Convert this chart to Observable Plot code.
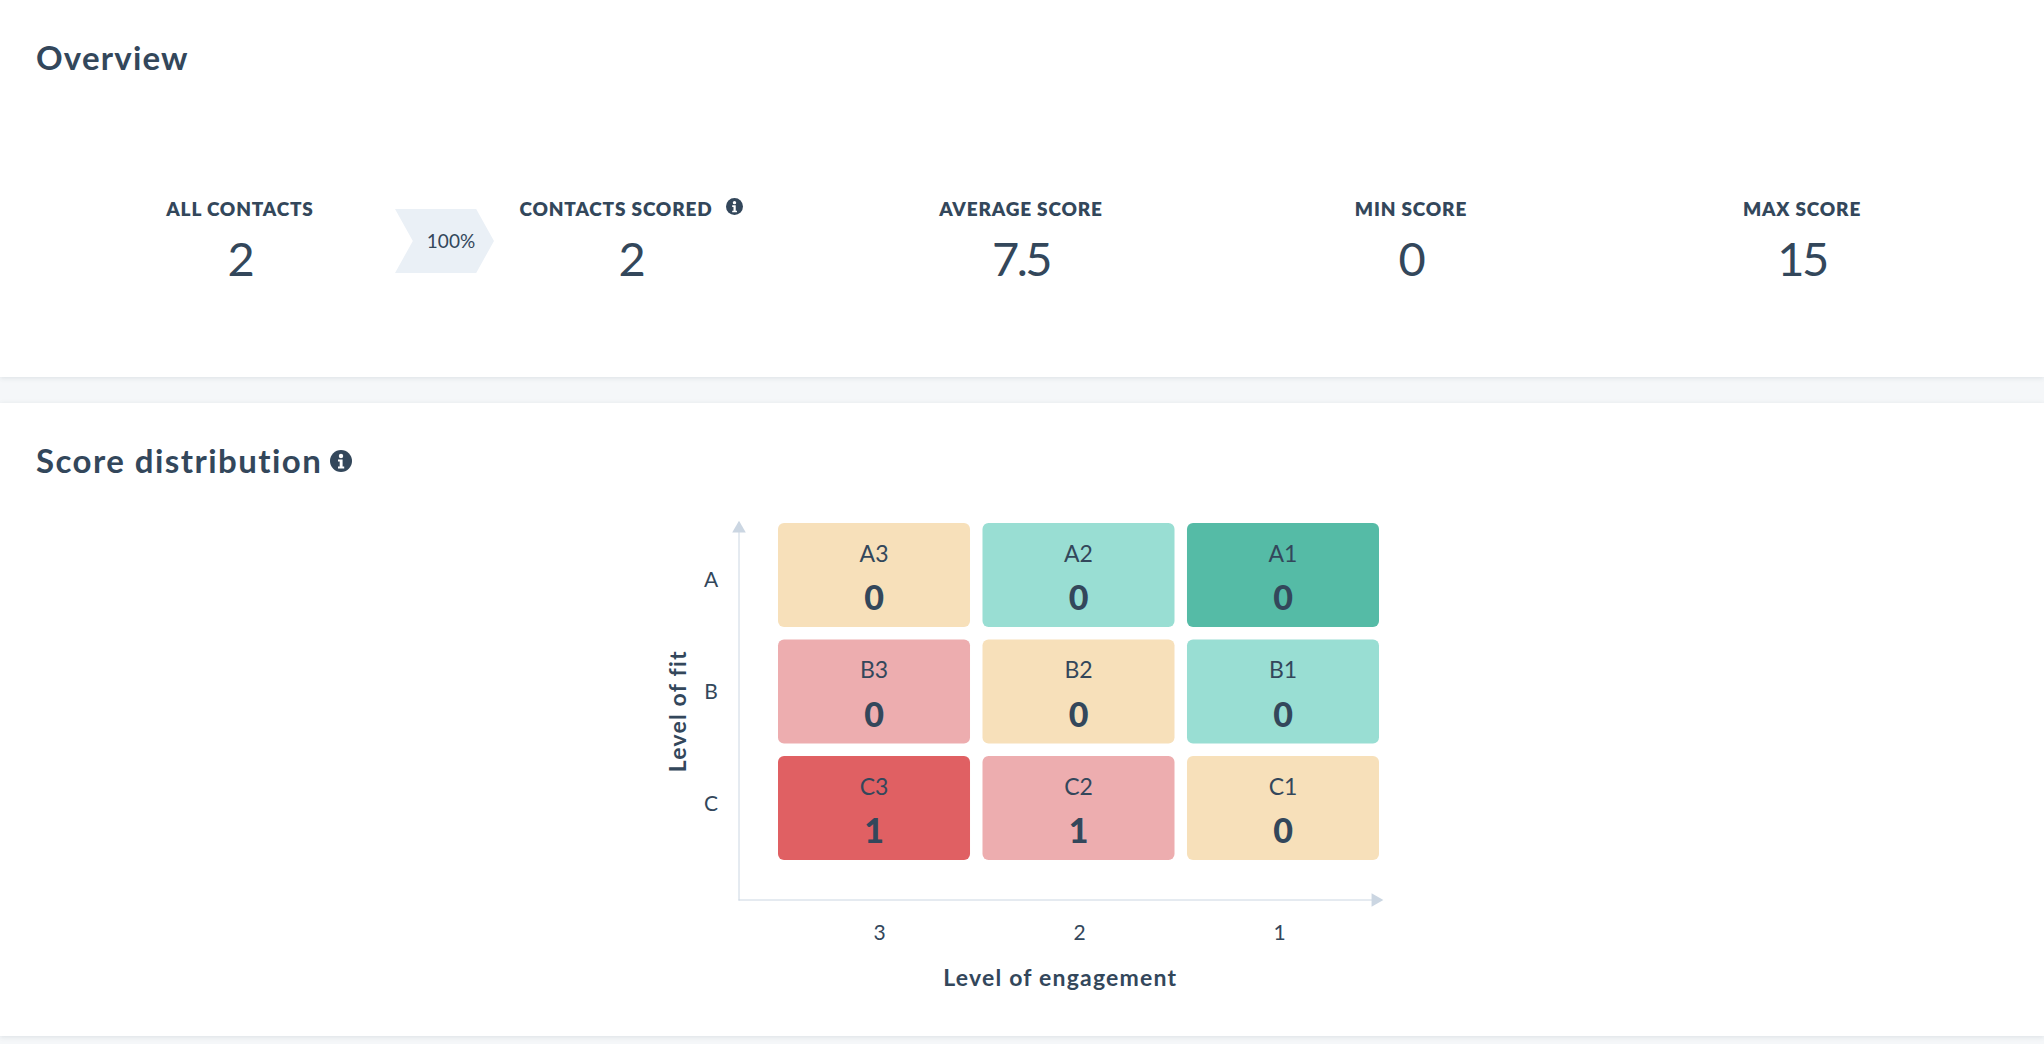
<!DOCTYPE html>
<html>
<head>
<meta charset="utf-8">
<script src="https://cdn.jsdelivr.net/npm/d3@7"></script>
<script src="https://cdn.jsdelivr.net/npm/@observablehq/plot@0.6"></script>
<style>
  html, body { margin: 0; padding: 0; background: #f5f7f9; }
  body { width: 2044px; height: 1044px; overflow: hidden; position: relative; font-family: Lato, sans-serif; color: #33475b; }
  .card { position: absolute; left: 0; width: 2044px; background: #fff; box-shadow: 0 1px 5px rgba(45,62,80,.12); }
  #card1 { top: 0; height: 377px; }
  #card2 { top: 403px; height: 633px; }
  h2 { position: absolute; left: 36px; margin: 0; font-size: 33px; font-weight: 700; line-height: 40px; white-space: nowrap; z-index: 2; }
  .kpi { position: absolute; width: 380px; text-align: center; }
  .kpi .label { position: absolute; left: 0; right: 0; top: 197px; font-size: 19px; font-weight: 800; line-height: 24px; letter-spacing: .83px; white-space: nowrap; }
  .kpi .value { position: absolute; left: 0; right: 0; top: 228px; font-size: 47px; font-weight: 400; line-height: 60px; letter-spacing: -2.5px; }
  .info { display: inline-block; vertical-align: middle; }
  #chevron { position: absolute; left: 395px; top: 209px; width: 99px; height: 64px; background: #eaf0f6;
    clip-path: polygon(0 0, 82% 0, 100% 50%, 82% 100%, 0 100%, 18% 50%); }
  #chevron span { position: absolute; left: 30px; top: 19.5px; width: 52px; text-align: center; font-size: 19px; line-height: 24px; }
  #chart { position: absolute; left: 0; top: 0; width: 2044px; height: 633px; }
  #chart svg { position: absolute; left: 0; top: 0; background: transparent; }
</style>
</head>
<body>
<div class="card" id="card1">
  <h2 style="top:37px;letter-spacing:1.2px">Overview</h2>
  <div id="kpis"></div>
  <div id="chevron"><span>100%</span></div>
</div>
<div class="card" id="card2">
  <div id="chart"></div>
  <h2 style="top:37px;letter-spacing:1.45px">Score distribution <svg class="info" width="22" height="22" viewBox="0 0 22 22" style="margin:-8px 0 0 -2px"><circle cx="11" cy="11" r="11" fill="#33475b"/><circle cx="11" cy="6" r="2.2" fill="#fff"/><path d="M8 9.5h4.6v7h1.6v2H8v-2h1.7v-5H8z" fill="#fff"/></svg></h2>
</div>
<script>
// ---- data ----
const kpiLabels = ["ALL CONTACTS", "CONTACTS SCORED", "AVERAGE SCORE", "MIN SCORE", "MAX SCORE"];
const kpiValues = ["2", "2", "7.5", "0", "15"];
const kpiCenters = [240, 631, 1021, 1411, 1802];

const fitLevels = ["A", "B", "C"];
const engagementLevels = ["3", "2", "1"];
const cellFit =        ["A","A","A","B","B","B","C","C","C"];
const cellEngagement = ["3","2","1","3","2","1","3","2","1"];
const cellCounts =     [0, 0, 0, 0, 0, 0, 1, 1, 0];
const cellTiers =      ["neutral","good","best","poor","neutral","good","worst","poor","neutral"];

const tierDomain = ["best","good","neutral","poor","worst"];
const tierColors = ["#55bba6","#99ded3","#f7e0ba","#edadaf","#e06063"];
const ink = "#33475b", axisInk = "#cbd6e2";

// ---- KPI strip ----
const infoSmall = '<svg class="info" width="17" height="17" viewBox="0 0 22 22" style="margin:-9px 0 0 13px"><circle cx="11" cy="11" r="11" fill="#33475b"/><circle cx="11" cy="6" r="2.2" fill="#fff"/><path d="M8 9.5h4.6v7h1.6v2H8v-2h1.7v-5H8z" fill="#fff"/></svg>';
document.getElementById("kpis").innerHTML = kpiLabels.map((l, i) =>
  `<div class="kpi" style="left:${kpiCenters[i] - 190}px"><div class="label">${l}${i === 1 ? infoSmall : ""}</div><div class="value">${kpiValues[i]}</div></div>`
).join("");

// ---- chart ----
const cells = cellFit.map((f, i) => ({
  fit: f, engagement: cellEngagement[i], count: cellCounts[i], tier: cellTiers[i], name: f + cellEngagement[i]
}));
const W = 2044, H = 633;
const font = "Lato, sans-serif";

const grid = Plot.plot({
  width: W, height: H, margin: 0,
  style: {fontFamily: font, background: "transparent", overflow: "visible"},
  x: {type: "band", domain: engagementLevels, range: [778, 1379], paddingInner: 0.061, paddingOuter: 0, round: false, axis: null},
  y: {type: "band", domain: fitLevels, range: [120, 457], paddingInner: 0.107, paddingOuter: 0, round: false, axis: null},
  color: {type: "ordinal", domain: tierDomain, range: tierColors},
  marks: [
    Plot.cell(cells, {x: "engagement", y: "fit", fill: "tier", rx: 6, ry: 6}),
    Plot.text(cells, {x: "engagement", y: "fit", text: "name", dy: -21, dx: -0.5, fontSize: 23, fill: ink}),
    Plot.text(cells, {x: "engagement", y: "fit", text: d => String(d.count), dy: 24, dx: -0.5, fontSize: 34, fontWeight: 900, fill: ink})
  ]
});

const axes = Plot.plot({
  width: W, height: H,
  marginLeft: 738.5, marginRight: W - 1381, marginTop: 119, marginBottom: H - 496.5,
  style: {fontFamily: font, background: "transparent", overflow: "visible"},
  x: {type: "point", domain: engagementLevels, range: [878, 1279], padding: 0, axis: null},
  y: {type: "point", domain: fitLevels, range: [177, 401], padding: 0, axis: null},
  marks: [
    Plot.frame({anchor: "left", stroke: axisInk, strokeWidth: 1}),
    Plot.frame({anchor: "bottom", stroke: axisInk, strokeWidth: 1}),
    Plot.dot([0], {frameAnchor: "top-left", symbol: "triangle2", r: 6.5, fill: axisInk, stroke: "none", dy: 6}),
    Plot.dot([0], {frameAnchor: "bottom-right", symbol: "triangle2", r: 6.5, fill: axisInk, stroke: "none", rotate: 90, dx: -6}),
    Plot.axisX({tickSize: 0, tickPadding: 0, label: null, anchor: "bottom", dy: 25, fontSize: 21, color: ink}),
    Plot.axisY({tickSize: 0, tickPadding: 0, label: null, anchor: "left", dx: -28, textAnchor: "middle", fontSize: 21, color: ink}),
    Plot.text(["Level of engagement"], {frameAnchor: "bottom", dy: 79, fontSize: 23, fontWeight: 700, fill: ink, lineAnchor: "middle"}),
    Plot.text(["Level of fit"], {frameAnchor: "left", dx: -60, rotate: -90, textAnchor: "middle", fontSize: 23, fontWeight: 700, fill: ink})
  ]
});
// Wider tracking on the two axis titles, to match the reference's wider face.
axes.querySelectorAll("text").forEach(t => {
  if (t.textContent.startsWith("Level of")) t.style.letterSpacing = "1.2px";
});
document.getElementById("chart").append(axes, grid);
</script>
</body>
</html>
